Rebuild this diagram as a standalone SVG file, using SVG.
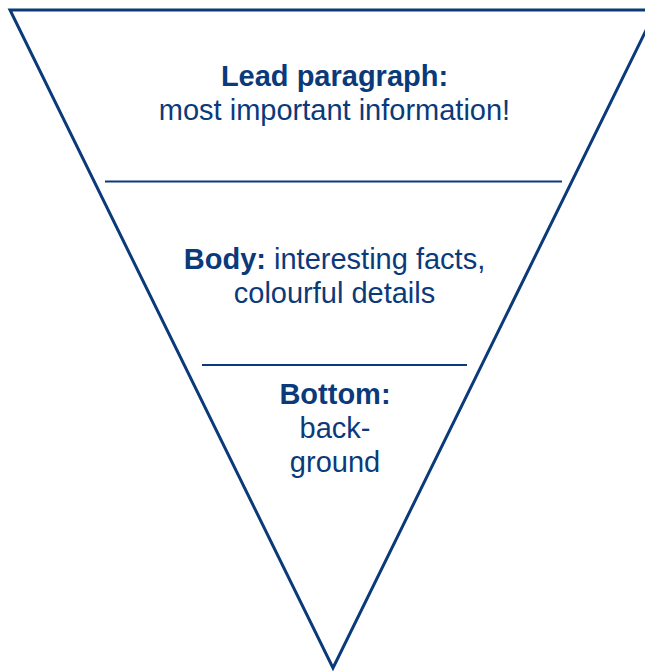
<svg xmlns="http://www.w3.org/2000/svg" width="645" height="671" viewBox="0 0 645 671">
  <style>
    .shape { fill: none; stroke: #0b3a7a; stroke-linejoin: miter; }
    .tri { stroke-width: 3; }
    .div { stroke-width: 2.2; }
    text { font-family: "Liberation Sans", Arial, sans-serif; font-size: 29px; fill: #0b3a7a; text-anchor: middle; }
    .b { font-weight: bold; }
  </style>
  <rect x="0" y="0" width="645" height="671" fill="#ffffff"/>
  <g id="funnel">
    <polygon class="shape tri" points="10,10 656,10 333,668"/>
    <line class="shape div" x1="105" y1="181.5" x2="562" y2="181.5"/>
    <line class="shape div" x1="202" y1="365" x2="467" y2="365"/>
  </g>
  <g id="lead">
    <text x="334.5" y="86" class="b">Lead paragraph:</text>
    <text x="334.5" y="120">most important information!</text>
  </g>
  <g id="body">
    <text x="334.5" y="269"><tspan class="b">Body:</tspan> interesting facts,</text>
    <text x="334.5" y="303">colourful details</text>
  </g>
  <g id="bottom">
    <text x="335" y="404" class="b">Bottom:</text>
    <text x="335" y="438">back-</text>
    <text x="335" y="472">ground</text>
  </g>
</svg>
